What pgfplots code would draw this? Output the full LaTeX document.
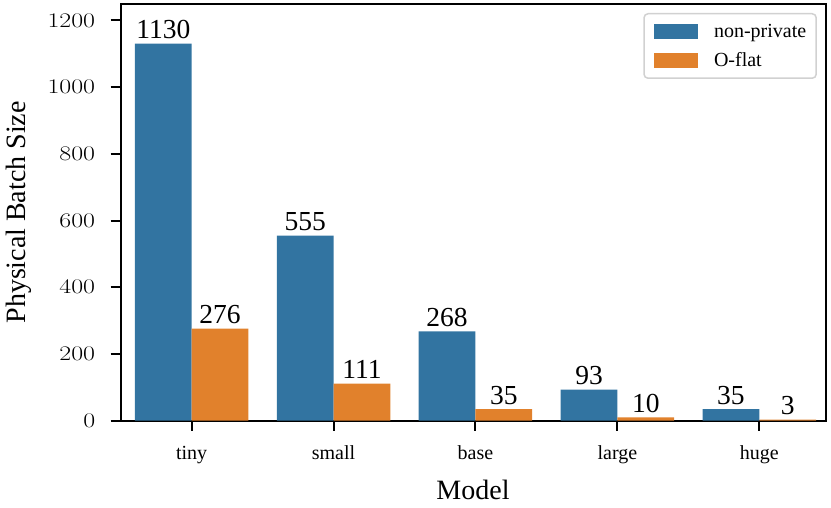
\documentclass[border=0pt]{standalone}
\usepackage{pgfplots}
\pgfplotsset{compat=1.18}
\usepackage{fontspec}
\setmainfont{Liberation Serif}
\usepackage{graphicx}
\definecolor{sbblue}{RGB}{50,116,161}
\definecolor{sborange}{RGB}{225,129,44}
\begin{document}
\begin{tikzpicture}
\begin{axis}[
  scale only axis,
  width=705.3pt, height=416.7pt,
  xmin=-0.5, xmax=4.47,
  ymin=0, ymax=1249,
  axis line style={line width=2pt},
  xtick={0,1,2,3,4},
  xticklabels={tiny,small,base,large,huge},
  ytick={0,200,400,600,800,1000,1200},
  /pgf/number format/1000 sep={},
  tick align=outside,
  major tick length=10pt,
  every tick/.style={black, line width=2pt},
  xtick pos=bottom, ytick pos=left,
  xticklabel style={font=\fontsize{20}{24}\selectfont, anchor=base, yshift=-29pt},
  yticklabel={\scalebox{1.25}[1]{$\pgfmathprintnumber{\tick}$}},
  yticklabel style={font=\fontsize{19.4}{23}\selectfont, xshift=-12pt},
  xlabel={Model},
  ylabel={Physical Batch Size},
  label style={font=\fontsize{28}{32}\selectfont},
  xlabel style={at={(axis description cs:0.4995,-0.166)}, anchor=center},
  ylabel style={at={(axis description cs:-0.1445,0.5)}, anchor=center},
  ybar, bar width=0.4,
  nodes near coords={\pgfmathprintnumber[assume math mode=true]{\pgfplotspointmeta}},
  every node near coord/.append style={font=\fontsize{27.5}{30}\selectfont, anchor=base, yshift=5pt, black},
  legend style={at={(axis description cs:0.9872,0.9784)}, anchor=north east,
    draw=black!18, line width=1.5pt, rounded corners=4pt,
    inner xsep=10pt, inner ysep=10pt,
    font=\fontsize{20}{24}\selectfont,
    nodes={inner sep=0pt},
    row sep=13.7pt,
    cells={anchor=base west},
    /tikz/every odd column/.append style={column sep=16pt}},
  legend image code/.code={\fill[#1, sharp corners] (0pt,-1.3pt) rectangle (44pt,13.7pt);},
]
\addplot[fill=sbblue, draw=none, bar shift=-0.2] coordinates {(0,1130) (1,555) (2,268) (3,93) (4,35)};
\addplot[fill=sborange, draw=none, bar shift=0.2] coordinates {(0,276) (1,111) (2,35) (3,10) (4,3)};
\legend{non-private, O-flat}
\end{axis}
\pgfresetboundingbox
\useasboundingbox (-120.7pt,-87.3pt) rectangle (710.3pt,420.7pt);
\end{tikzpicture}
\end{document}
